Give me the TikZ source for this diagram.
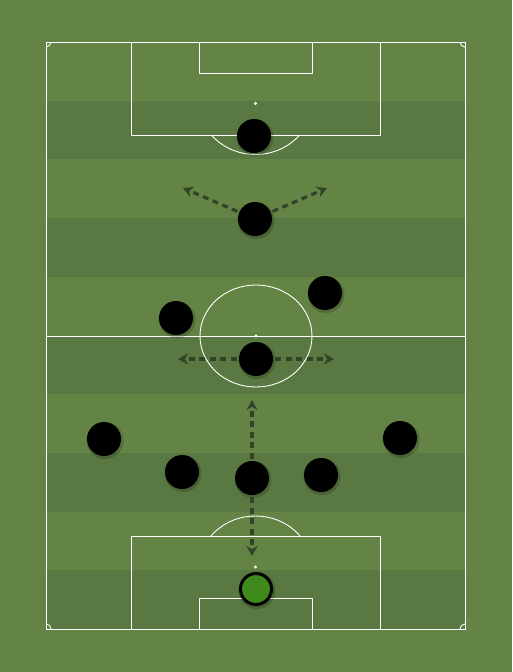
\documentclass[tikz,border=0pt]{standalone}
\usetikzlibrary{arrows.meta}
\definecolor{grassA}{RGB}{99,132,69}
\definecolor{grassB}{RGB}{90,121,66}
\definecolor{runcol}{RGB}{50,68,40}
\definecolor{keeper}{RGB}{62,138,26}
\begin{document}
\begin{tikzpicture}[
              x=1pt,y=-1pt,
              line/.style={white,line width=0.9pt},
              player/.style={circle,fill=black,minimum size=34pt,inner sep=0pt},
              goalie/.style={circle,fill=keeper,draw=black,line width=3pt,minimum size=31pt,inner sep=0pt},
              run/.style={runcol,line width=3.2pt,dash pattern=on 6pt off 4.5pt,-{Stealth[length=10pt,width=11pt]},shorten <=2pt}
            ]
            % Grass
            \fill[grassA] (0,0) rectangle (512,672);
            \foreach \i in {1,3,5,7,9}
              \fill[grassB] (46,{42+\i*58.7}) rectangle (465,{42+(\i+1)*58.7});

            % Lines: outline and halfway
            \draw[line] (46,42) rectangle (465,629);
            \draw[line] (46,336) -- (465,336);
            \draw[line] (256,336) ellipse [x radius=56,y radius=51];
            \fill[white] (256,336) circle [radius=1.6];

            % Top penalty area
            \draw[line] (131,42) rectangle (380,135);
            \draw[line] (199,42) rectangle (312,73);
            \fill[white] (255.5,103.5) circle [radius=1.6];
            \begin{scope}
              \clip (131,135) rectangle (380,200);
              \draw[line] (255.5,103.5) ellipse [x radius=56,y radius=51];
            \end{scope}

            % Bottom penalty area
            \draw[line] (131,536) rectangle (380,629);
            \draw[line] (199,598) rectangle (312,629);
            \fill[white] (255.5,567) circle [radius=1.6];
            \begin{scope}
              \clip (131,536) rectangle (380,470);
              \draw[line] (255.5,567) ellipse [x radius=56,y radius=51];
            \end{scope}

            % Corners
            \begin{scope}
              \clip (46,42) rectangle (465,629);
              \foreach \cx/\cy in {46/42,465/42,46/629,465/629}
                \draw[line] (\cx,\cy) circle [radius=5];
            \end{scope}

            % Shadows under the players
            \foreach \sx/\sy in {254/136,255/219,176/318,325/293,256/359,104/439,400/438,182/472,252/478,321/475,256/589}
              \fill[black,opacity=0.18] (\sx+1,\sy+1.5) circle [radius=18.5];

            % Players
            \node[player] (p1) at (254,136) {};
            \node[player] (p2) at (255,219) {};
            \node[player] (p3) at (176,318) {};
            \node[player] (p4) at (325,293) {};
            \node[player] (p5) at (256,359) {};
            \node[player] (p6) at (104,439) {};
            \node[player] (p7) at (400,438) {};
            \node[player] (p8) at (182,472) {};
            \node[player] (p9) at (252,478) {};
            \node[player] (p10) at (321,475) {};
            \node[goalie] (gk) at (256,589) {};

            % Runs
            \coordinate (r2l) at (183,188);
            \coordinate (r2r) at (327,188);
            \coordinate (r5l) at (178,359);
            \coordinate (r5r) at (334,359);
            \coordinate (r9u) at (252,400);
            \coordinate (r9d) at (252,556);
            \draw[run] (p2) -- (r2l);
            \draw[run] (p2) -- (r2r);
            \draw[run] (p5) -- (r5l);
            \draw[run] (p5) -- (r5r);
            \draw[run] (p9) -- (r9u);
            \draw[run] (p9) -- (r9d);
\end{tikzpicture}
\end{document}
